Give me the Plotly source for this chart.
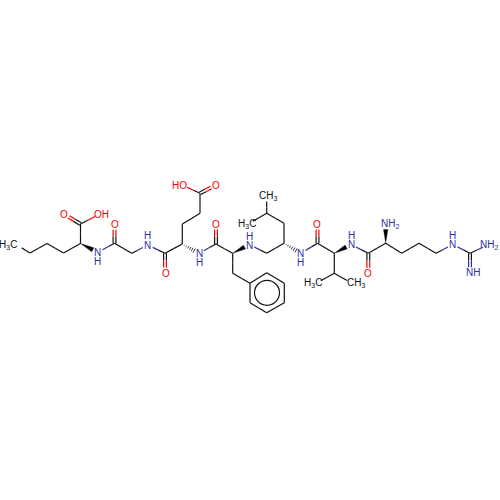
import plotly.graph_objects as go

# atoms, pixels from the top left
atom_names = ["me", "c1", "c2", "c3", "nle_a", "nle_c", "nle_o", "nle_oh", "n1",
              "gly_c", "gly_o", "gly_a", "n2", "glu_c", "glu_o", "glu_a", "glu_b",
              "glu_g", "glu_d", "glu_o1", "glu_o2", "n3", "phe_c", "phe_o", "phe_a",
              "n4", "phe_b", "r1", "r2", "r3", "r4", "r5", "r6", "leu_c", "leu_a",
              "leu_b", "leu_g", "leu_d1", "leu_d2", "n5", "val_c", "val_o", "val_a",
              "n6", "val_b", "val_g1", "val_g2", "arg_c", "arg_o", "arg_a", "arg_n",
              "arg_b", "arg_g", "arg_d", "n7", "gu_c", "gu_n1", "gu_n2"]
atom_x = [17, 30, 47, 63.5, 80.5, 80.5, 64, 100, 97.7,
          114.5, 114.5, 131.7, 147.7, 165, 165, 182.3, 182.3,
          200, 200, 216, 182, 199, 216, 216, 232.7,
          249.3, 232.7, 250, 266.7, 284.3, 284.3, 266.7, 250, 266.7, 284,
          284, 266.7, 266.7, 248, 300.7, 317.5, 317.5, 334.3,
          351, 334.3, 316, 352, 368.3, 368.3, 385.7, 385.7,
          401.7, 419, 436, 452.7, 470, 488, 470]
atom_y = [245, 253, 243.5, 253, 243.5, 224, 214, 214, 252.3,
          243.3, 224.3, 253.3, 245, 253.3, 273, 244, 224,
          213.3, 193.3, 185, 185, 253.3, 244, 224, 253.3,
          244.5, 273.3, 283.3, 272.7, 283.3, 302.7, 312.7, 302.7, 253.3, 243.3,
          223.3, 213.3, 196, 224, 253.3, 243.3, 224, 253.3,
          244.5, 273.3, 283.3, 283.3, 253.3, 273.3, 243.3, 224,
          253.3, 243.3, 253.3, 244.5, 253.3, 245, 272.7]
ring_center = ["ph", 267, 292.8]

single_bonds = [("me", "c1"), ("c1", "c2"), ("c2", "c3"), ("c3", "nle_a"), ("nle_a", "nle_c"),
                ("nle_c", "nle_oh"), ("n1", "gly_c"), ("gly_c", "gly_a"), ("gly_a", "n2"),
                ("n2", "glu_c"), ("glu_c", "glu_a"), ("glu_a", "glu_b"), ("glu_b", "glu_g"),
                ("glu_g", "glu_d"), ("glu_d", "glu_o2"), ("n3", "phe_c"), ("phe_c", "phe_a"),
                ("phe_a", "phe_b"), ("phe_b", "r1"), ("r1", "r2"), ("r2", "r3"), ("r3", "r4"),
                ("r4", "r5"), ("r5", "r6"), ("r6", "r1"), ("n4", "leu_c"), ("leu_c", "leu_a"),
                ("leu_a", "leu_b"), ("leu_b", "leu_g"), ("leu_g", "leu_d1"), ("leu_g", "leu_d2"),
                ("n5", "val_c"), ("val_c", "val_a"), ("val_a", "val_b"), ("val_b", "val_g1"),
                ("val_b", "val_g2"), ("n6", "arg_c"), ("arg_c", "arg_a"), ("arg_a", "arg_b"),
                ("arg_b", "arg_g"), ("arg_g", "arg_d"), ("arg_d", "n7"), ("n7", "gu_c"),
                ("gu_c", "gu_n1")]
double_bonds = [("nle_c", "nle_o"), ("gly_c", "gly_o"), ("glu_c", "glu_o"), ("glu_d", "glu_o1"),
                ("phe_c", "phe_o"), ("val_c", "val_o"), ("arg_c", "arg_o"), ("gu_c", "gu_n2")]
wedge_bonds = [("nle_a", "n1"), ("phe_a", "n4"), ("val_a", "n6"), ("arg_a", "arg_n")]
hash_bonds = [("glu_a", "n3"), ("leu_a", "n5")]

# text, x, y, colour key
label_text = ["H<sub>3</sub>C", "O", "OH", "N", "H", "O", "N", "H", "O", "O", "HO", "N", "H", "O",
              "N", "H", "CH<sub>3</sub>", "H<sub>3</sub>C", "N", "H", "O", "N", "H",
              "H<sub>3</sub>C", "CH<sub>3</sub>", "O", "NH<sub>2</sub>", "N", "H",
              "NH<sub>2</sub>", "NH"]
label_x = [8, 64, 101, 97.7, 97.7, 115.3, 147.7, 147.7, 165.5, 216, 179.5, 199, 199, 216,
           249.3, 249.3, 268, 247, 300.7, 300.7, 317.3, 351, 351,
           312.5, 356, 368.3, 390, 452.7, 452.7, 489, 473]
label_y = [245, 214, 214, 252.5, 261.5, 224.3, 245, 235.5, 273, 185, 185, 253.3, 262, 224,
           245, 236, 195.5, 224.3, 253.3, 262, 224, 244, 235,
           283.3, 283.3, 273.3, 224.3, 244, 235, 245, 272.7]
label_kind = ["C", "O", "O", "N", "N", "O", "N", "N", "O", "O", "O", "N", "N", "O",
              "N", "N", "C", "C", "N", "N", "O", "N", "N",
              "C", "C", "O", "N", "N", "N", "N", "N"]

colors = {"C": "#111111", "N": "#2e2e9e", "O": "#f00000"}
pos = dict(zip(atom_names, zip(atom_x, atom_y)))


def element(name):
    if name.startswith("n") and name[1:].isdigit():
        return "N"
    if name in ("arg_n", "gu_n1", "gu_n2"):
        return "N"
    if name in ("nle_o", "nle_oh", "gly_o", "glu_o", "glu_o1", "glu_o2", "phe_o", "val_o", "arg_o"):
        return "O"
    return "C"


# a bond stops short of a labelled atom, and is coloured half and half
def trimmed(a, b, gap=5.5):
    x0, y0 = pos[a]
    x1, y1 = pos[b]
    length = ((x1 - x0) ** 2 + (y1 - y0) ** 2) ** 0.5
    ux, uy = (x1 - x0) / length, (y1 - y0) / length
    if element(a) != "C" or a in ("me", "leu_d1", "leu_d2", "val_g1", "val_g2"):
        x0, y0 = x0 + ux * gap, y0 + uy * gap
    if element(b) != "C" or b in ("me", "leu_d1", "leu_d2", "val_g1", "val_g2"):
        x1, y1 = x1 - ux * gap, y1 - uy * gap
    return x0, y0, x1, y1


segments = {"C": ([], []), "N": ([], []), "O": ([], [])}


def add_line(a, b, off=0.0):
    x0, y0, x1, y1 = trimmed(a, b)
    length = ((x1 - x0) ** 2 + (y1 - y0) ** 2) ** 0.5
    nx, ny = -(y1 - y0) / length * off, (x1 - x0) / length * off
    x0, x1, y0, y1 = x0 + nx, x1 + nx, y0 + ny, y1 + ny
    mx, my = (x0 + x1) / 2, (y0 + y1) / 2
    for key, xs, ys in ((element(a), (x0, mx), (y0, my)), (element(b), (mx, x1), (my, y1))):
        segments[key][0].extend([xs[0], xs[1], None])
        segments[key][1].extend([ys[0], ys[1], None])


for a, b in single_bonds:
    add_line(a, b)
for a, b in double_bonds:
    add_line(a, b, 1.4)
    add_line(a, b, -1.4)

fig = go.Figure()

for key, (xs, ys) in segments.items():
    fig.add_trace(go.Scatter(x=xs, y=ys, mode="lines", hoverinfo="skip",
                             line=dict(color=colors[key], width=1.2)))

# solid stereo bonds
for a, b in wedge_bonds:
    x0, y0 = pos[a]
    x1, y1, x2, y2 = trimmed(a, b)
    length = ((x2 - x1) ** 2 + (y2 - y1) ** 2) ** 0.5
    nx, ny = -(y2 - y1) / length * 2.2, (x2 - x1) / length * 2.2
    fig.add_trace(go.Scatter(x=[x0, x2 + nx, x2 - nx, x0], y=[y0, y2 + ny, y2 - ny, y0],
                             mode="lines", fill="toself", fillcolor="#000000",
                             line=dict(color="#000000", width=0.3), hoverinfo="skip"))

# hashed stereo bonds
for a, b in hash_bonds:
    x1, y1, x2, y2 = trimmed(a, b)
    length = ((x2 - x1) ** 2 + (y2 - y1) ** 2) ** 0.5
    ux, uy = (x2 - x1) / length, (y2 - y1) / length
    hx, hy = [], []
    for i in range(1, 7):
        t = i / 6
        w = 2.4 * t
        cx, cy = x1 + (x2 - x1) * t, y1 + (y2 - y1) * t
        hx.extend([cx - uy * w, cx + uy * w, None])
        hy.extend([cy + ux * w, cy - ux * w, None])
    fig.add_trace(go.Scatter(x=hx, y=hy, mode="lines", hoverinfo="skip",
                             line=dict(color="#222222", width=0.9)))

# aromatic ring
fig.add_trace(go.Scatter(x=[ring_center[1]], y=[ring_center[2]], mode="markers", hoverinfo="skip",
                         marker=dict(symbol="circle-open", size=25, color="#111111",
                                     line=dict(color="#111111", width=1.2))))

for text, x, y, kind in zip(label_text, label_x, label_y, label_kind):
    fig.add_annotation(x=x, y=y, text=text, showarrow=False, xref="x", yref="y",
                       font=dict(family="Liberation Sans", size=10, color=colors[kind]))

fig.update_layout(width=500, height=500, showlegend=False, margin=dict(l=0, r=0, t=0, b=0),
                  paper_bgcolor="white", plot_bgcolor="white")
fig.update_xaxes(range=[0, 500], visible=False)
fig.update_yaxes(range=[500, 0], visible=False)
# the page's own margin would push the drawing off the window
fig.write_html("out.html", config={"displayModeBar": False},
               post_script="document.body.style.margin='0';document.body.style.overflow='hidden';")
